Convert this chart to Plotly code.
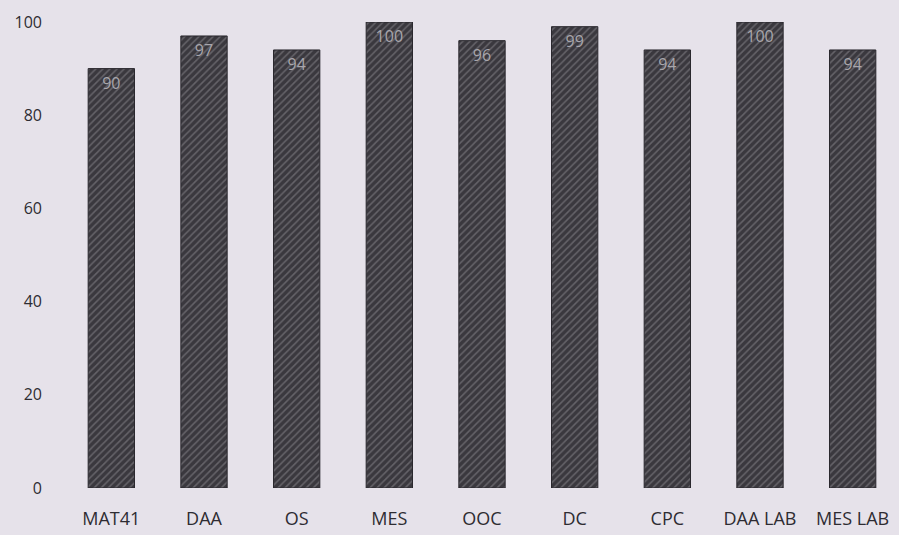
import plotly.graph_objects as go

categories = ["MAT41", "DAA", "OS", "MES", "OOC", "DC", "CPC", "DAA LAB", "MES LAB"]
values = [90, 97, 94, 100, 96, 99, 94, 100, 94]
y_ticks = [0, 20, 40, 60, 80, 100]

fig = go.Figure()
fig.add_trace(go.Bar(
    x=categories,
    y=values,
    text=[str(v) for v in values],
    textposition="inside",
    insidetextanchor="end",
    textfont=dict(color="#a8a6ac", size=16, family="Open Sans"),
    marker=dict(
        color="#3a383e",
        line=dict(color="#2a282e", width=1),
        pattern=dict(shape="/", fgcolor="#908e94", size=5, solidity=0.3),
    ),
))

fig.update_layout(
    width=899,
    height=535,
    margin=dict(l=65, r=0, t=22, b=47),
    paper_bgcolor="#e6e2ea",
    plot_bgcolor="#e6e2ea",
    bargap=0.5,
    showlegend=False,
    font=dict(family="Open Sans", size=16, color="#2e2c32"),
    xaxis=dict(showgrid=False, showline=False, ticks="", ticklabelstandoff=18,
               tickfont=dict(size=18)),
    yaxis=dict(range=[0, 100], tickvals=y_ticks, showgrid=False, showline=False,
               zeroline=False, ticks="", ticklabelstandoff=22, tickfont=dict(size=16)),
)

fig.write_html(
    "out.html",
    config={"displayModeBar": False},
    post_script="document.body.style.margin='0';document.body.style.background='#e6e2ea';",
)
